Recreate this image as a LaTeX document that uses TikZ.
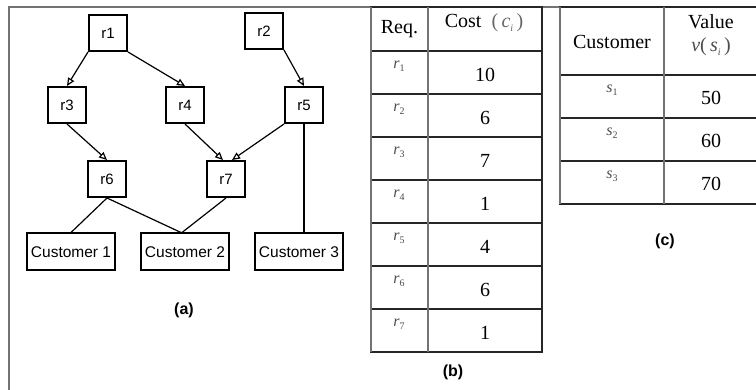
\documentclass[tikz,border=0pt]{standalone}
\usepackage{fontspec}
\setmainfont{Liberation Serif}
\setsansfont{Liberation Sans}
\usetikzlibrary{arrows.meta}
\tikzstyle{req}=[rectangle,draw=black,line width=2pt,inner sep=0pt,
  minimum width=38pt,minimum height=36pt,font=\fontsize{15}{17}\sffamily]
\tikzstyle{cust}=[req,minimum width=88pt,minimum height=37pt,
  font=\fontsize{15.5}{18}\sffamily]
\tikzstyle{dep}=[line width=1.2pt,-{Triangle[open,length=8pt,width=7pt,line width=1.2pt]}]
\tikzstyle{use}=[line width=1.2pt]
\tikzstyle{tabline}=[line width=1.2pt,black!85]
\tikzstyle{tabvert}=[line width=1.2pt,black!55]
\tikzstyle{cell}=[inner sep=0pt,font=\fontsize{20}{24}\selectfont]
\tikzstyle{idx}=[inner sep=0pt,text=black!70,font=\fontsize{16}{18}\selectfont]
\tikzstyle{sublabel}=[inner sep=0pt,font=\fontsize{16}{18}\sffamily\bfseries]
\newcommand{\idxlbl}[2]{\textit{#1}\raisebox{-0.4ex}{\fontsize{10}{11}\selectfont\upshape #2}}

\begin{document}
\begin{tikzpicture}[x=1pt,y=-1pt]
    \useasboundingbox (0,0) rectangle (756,390);
    \draw[black!55,line width=1.5pt] (9,390) -- (9,7) -- (756,7);
    % (a) request graph
    \node [style=req] (r1) at (108, 33) {r1};
    \node [style=req] (r2) at (264, 31) {r2};
    \node [style=req] (r3) at (67, 105) {r3};
    \node [style=req] (r4) at (185, 105) {r4};
    \node [style=req] (r5) at (304, 105) {r5};
    \node [style=req] (r6) at (107, 179) {r6};
    \node [style=req] (r7) at (226, 179) {r7};
    \node [style=cust] (c1) at (71, 252) {Customer 1};
    \node [style=cust] (c2) at (185, 252) {Customer 2};
    \node [style=cust] (c3) at (299, 252) {Customer 3};
    \draw [style=dep] (r1.south west) to (r3.north);
    \draw [style=dep] (r1.south east) to (r4.north);
    \draw [style=dep] (r2.south east) to (r5.north);
    \draw [style=dep] (r3.south) to (r6.north);
    \draw [style=dep] (r4.south) to ([xshift=-3pt]r7.north);
    \draw [style=dep] (r5.south west) to ([xshift=6pt]r7.north);
    \draw [style=use] (r6.south) to (c1.north);
    \draw [style=use] (r6.south) to ([xshift=-4pt]c2.north);
    \draw [style=use] (r7.south) to ([xshift=-3pt]c2.north);
    \draw [style=use] (r5.south) to (r5.south |- c3.north);
    \node [style=sublabel] (la) at (184, 310) {(a)};
    % (b) request costs
    \draw [style=tabline] (371,7) rectangle (542,352);
    \foreach \y in {51,94,137,180,223,266,309}
        \draw [style=tabline] (371,\y) -- (542,\y);
    \draw [style=tabvert] (371,7) -- (371,352);
    \draw [style=tabvert] (428,7) -- (428,352);
    \node [style=cell] (bh1) at (399.5, 29) {Req.};
    \node [style=cell] (bh2) at (484, 23) {Cost\ \ {\color{black!60}(\,\idxlbl{c}{\textit{i}}\,)}};
    \foreach \v [count=\i] in {10,6,7,1,4,6,1} {
        \node [style=cell] (b\i) at (485, 31.5+43*\i) {\v};
        \node [style=idx] (lr\i) at (399, 23.5+43*\i) {\idxlbl{r}{\i}};
    }
    \node [style=sublabel] (lb) at (453, 372) {(b)};
    % (c) customer values
    \draw [style=tabline] (560,7) rectangle (758,204);
    \foreach \y in {75,118,161}
        \draw [style=tabline] (560,\y) -- (758,\y);
    \draw [style=tabvert] (560,7) -- (560,204);
    \draw [style=tabvert] (664,7) -- (664,204);
    \node [style=cell] (ch1) at (612, 42) {Customer};
    \node [style=cell] (ch2) at (711, 22) {Value};
    \node [style=cell] (ch3) at (711, 47) {{\color{black!70}\textit{v}(\,\idxlbl{s}{\textit{i}}\,)}};
    \foreach \v [count=\i] in {50,60,70} {
        \node [style=cell] (cv\i) at (711, 54.5+43*\i) {\v};
        \node [style=idx] (ls\i) at (612, 47.5+43*\i) {\idxlbl{s}{\i}};
    }
    \node [style=sublabel] (lc) at (665, 241) {(c)};
\end{tikzpicture}
\end{document}
